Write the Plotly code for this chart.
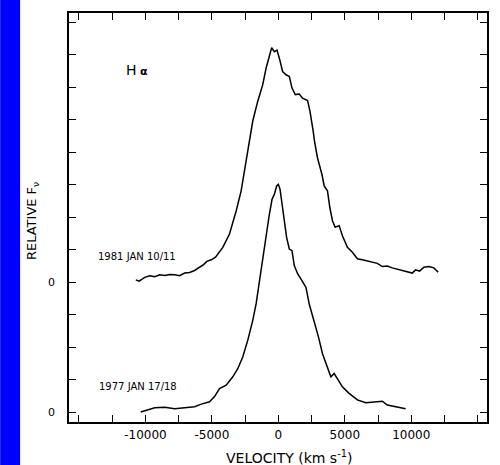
import plotly.graph_objects as go

# 1981 JAN 10/11 spectrum (velocity km/s, relative flux above its own zero)
v1981 = [-10725, -10478, -10050, -9675, -9300, -8925, -8550, -8175, -7800, -7425,
         -7050, -6675, -6300, -5925, -5625, -5378, -5048, -4725, -4178, -3675,
         -3173, -2798, -2475, -2228, -1928, -1553, -1178, -923, -675, -503,
         -300, -98, 75, 323, 578, 825, 1028, 1275, 1575, 1823,
         2198, 2378, 2625, 2723, 2948, 3278, 3450, 3698, 3878, 4073,
         4275, 4575, 4823, 5198, 5573, 5948, 6323, 6698, 7073, 7448,
         7823, 8198, 8573, 8948, 9323, 9698, 10073, 10325, 10628, 10950,
         11325, 11700, 12023]
f1981 = [0.07, 0.03, 0.15, 0.20, 0.17, 0.23, 0.21, 0.24, 0.23, 0.20,
         0.28, 0.30, 0.36, 0.46, 0.54, 0.64, 0.69, 0.77, 1.07, 1.48,
         2.19, 2.81, 3.62, 4.33, 4.95, 5.56, 6.07, 6.58, 6.99, 7.21,
         7.09, 7.14, 6.89, 6.48, 6.38, 6.33, 5.97, 5.77, 5.79, 5.66,
         5.59, 5.26, 4.64, 4.33, 3.82, 3.32, 2.96, 2.81, 2.29, 1.89,
         1.69, 1.74, 1.43, 1.07, 0.92, 0.72, 0.69, 0.66, 0.61, 0.58,
         0.48, 0.50, 0.44, 0.40, 0.36, 0.31, 0.28, 0.38, 0.34, 0.46,
         0.48, 0.44, 0.31]

# 1977 JAN 17/18 spectrum
v1977 = [-10350, -9803, -9300, -8550, -7800, -7050, -6300, -5798, -5175, -4800,
         -4425, -3923, -3428, -3053, -2678, -2303, -1928, -1673, -1425, -1178,
         -923, -675, -473, -300, -128, 0, 128, 278, 450, 623,
         825, 1028, 1200, 1448, 1778, 2078, 2325, 2700, 3023, 3323,
         3698, 3953, 4200, 4448, 4823, 5325, 5948, 6578, 7200, 7823,
         8198, 8828, 9578]
f1977 = [0.01, 0.07, 0.14, 0.15, 0.11, 0.14, 0.17, 0.25, 0.32, 0.48,
         0.73, 0.83, 1.09, 1.34, 1.70, 2.21, 2.82, 3.33, 4.05, 4.66,
         5.38, 6.09, 6.55, 6.70, 6.96, 7.01, 6.86, 6.45, 5.89, 5.38,
         5.02, 4.97, 4.51, 4.26, 4.05, 3.84, 3.33, 2.82, 2.31, 1.80,
         1.39, 1.09, 1.19, 1.04, 0.78, 0.58, 0.38, 0.29, 0.32, 0.34,
         0.22, 0.17, 0.11]

offset1981 = 4  # upper spectrum zero level (tick units)

x_tickvals = [-15000, -12500, -10000, -7500, -5000, -2500, 0, 2500, 5000, 7500, 10000, 12500, 15000]
x_ticktext = ["", "", "-10000", "", "-5000", "", "0", "", "5000", "", "10000", "", ""]
y_tickvals = list(range(0, 13))
y_ticktext = ["0", "", "", "", "0", "", "", "", "", "", "", "", ""]

FONT = "DejaVu Sans"

fig = go.Figure()
fig.add_trace(go.Scatter(x=v1981, y=[f + offset1981 for f in f1981], mode="lines",
                         line=dict(color="black", width=1.5), showlegend=False))
fig.add_trace(go.Scatter(x=v1977, y=f1977, mode="lines",
                         line=dict(color="black", width=1.5), showlegend=False))

axis_common = dict(showgrid=False, zeroline=False, showline=True, linecolor="black",
                   linewidth=1.5, mirror="allticks", ticks="inside", ticklen=7,
                   tickwidth=1.2, tickcolor="black")

fig.update_xaxes(range=[-15750, 15700], tickvals=x_tickvals, ticktext=x_ticktext,
                 ticklabelstandoff=1, tickfont=dict(family=FONT, size=12, color="black"),
                 **axis_common)
fig.update_yaxes(range=[-0.30, 12.28], tickvals=y_tickvals, ticktext=y_ticktext,
                 ticklabelstandoff=10, tickfont=dict(family=FONT, size=11, color="black"),
                 **axis_common)

fig.add_annotation(x=-10613, y=10.54, xref="x", yref="y", showarrow=False,
                   xanchor="center", yanchor="middle",
                   text="H<span style='font-size:11px'> <b>α</b></span>",
                   font=dict(family=FONT, size=14, color="black"))
fig.add_annotation(x=-10613, y=4.78, xref="x", yref="y", showarrow=False,
                   xanchor="center", yanchor="middle",
                   text="1981 JAN 10/11", font=dict(family=FONT, size=10, color="black"))
fig.add_annotation(x=-10538, y=0.78, xref="x", yref="y", showarrow=False,
                   xanchor="center", yanchor="middle",
                   text="1977 JAN 17/18", font=dict(family=FONT, size=10, color="black"))

# axis titles
fig.add_annotation(x=(290 - 69) / 419, y=(422 - 457) / 411, xref="paper", yref="paper",
                   showarrow=False, xanchor="center", yanchor="middle",
                   text="VELOCITY (km s<sup>-1</sup>)",
                   font=dict(family=FONT, size=14, color="black"))
fig.add_annotation(x=(33 - 69) / 419, y=(422 - 220) / 411, xref="paper", yref="paper",
                   showarrow=False, xanchor="center", yanchor="middle",
                   textangle=-90, text="RELATIVE F<sub>ν</sub>",
                   font=dict(family=FONT, size=13, color="black"))

# blue side bar
fig.add_shape(type="rect", xref="paper", yref="paper",
              x0=-69 / 419, x1=(20 - 69) / 419, y0=(422 - 470) / 411, y1=(422 + 5) / 411,
              fillcolor="#0000FF", line=dict(width=0), layer="below")

fig.update_layout(width=500, height=465, margin=dict(l=69, r=12, t=11, b=43),
                  plot_bgcolor="white", paper_bgcolor="white")

fig.write_html("out.html")
